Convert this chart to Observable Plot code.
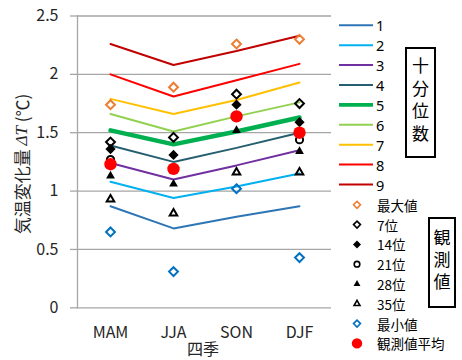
<!DOCTYPE html>
<html>
<head>
<meta charset="utf-8">
<script src="https://cdn.jsdelivr.net/npm/d3@7"></script>
<script src="https://cdn.jsdelivr.net/npm/@observablehq/plot@0.6"></script>
<style>
  body { margin: 0; background: #fff; }
  #chart { width: 462px; height: 360px; }
</style>
</head>
<body>
<div id="chart"></div>
<script>
// Seasons on the x axis
const seasons = ["MAM", "JJA", "SON", "DJF"];
const yTicks = [0, 0.5, 1, 1.5, 2, 2.5];

// Model deciles (1st .. 9th), ΔT in ℃ per season
const decile1 = [0.87, 0.68, 0.78, 0.87];
const decile2 = [1.08, 0.94, 1.04, 1.15];
const decile3 = [1.24, 1.10, 1.22, 1.35];
const decile4 = [1.39, 1.25, 1.37, 1.50];
const decile5 = [1.52, 1.40, 1.51, 1.63];
const decile6 = [1.66, 1.51, 1.64, 1.76];
const decile7 = [1.79, 1.66, 1.78, 1.93];
const decile8 = [2.00, 1.81, 1.95, 2.09];
const decile9 = [2.26, 2.08, 2.20, 2.33];

// Observed values (ranked) and observed mean
const obsMax  = [1.74, 1.89, 2.26, 2.30];
const obs7    = [1.42, 1.46, 1.83, 1.75];
const obs14   = [1.36, 1.31, 1.74, 1.59];
const obs21   = [1.27, 1.19, 1.64, 1.44];
const obs28   = [1.13, 1.06, 1.52, 1.34];
const obs35   = [0.93, 0.81, 1.16, 1.16];
const obsMin  = [0.65, 0.31, 1.02, 0.43];
const obsMean = [1.23, 1.19, 1.64, 1.50];

const FONT = "'Noto Sans CJK JP', 'Noto Sans', sans-serif";
const LATIN = "'Noto Sans', sans-serif";
const GRID = "#a6a6a6";

const decileSeries = [
  {name: "1", values: decile1, color: "#2e75b6", width: 2},
  {name: "2", values: decile2, color: "#00b0f0", width: 2},
  {name: "3", values: decile3, color: "#7030a0", width: 2},
  {name: "4", values: decile4, color: "#255e6e", width: 2},
  {name: "5", values: decile5, color: "#00b050", width: 4.5},
  {name: "6", values: decile6, color: "#92d050", width: 2},
  {name: "7", values: decile7, color: "#ffc000", width: 2},
  {name: "8", values: decile8, color: "#ff0000", width: 2},
  {name: "9", values: decile9, color: "#c00000", width: 2}
];

const obsSeries = [
  {name: "最大値", values: obsMax, symbol: "diamond2", fill: "none", stroke: "#ed7d31", r: 4},
  {name: "7位", values: obs7, symbol: "diamond2", fill: "none", stroke: "#000", r: 4},
  {name: "14位", values: obs14, symbol: "diamond2", fill: "#000", stroke: "none", r: 4.6},
  {name: "21位", values: obs21, symbol: "circle", fill: "none", stroke: "#000", r: 3.6},
  {name: "28位", values: obs28, symbol: "triangle2", fill: "#000", stroke: "none", r: 4.2},
  {name: "35位", values: obs35, symbol: "triangle2", fill: "none", stroke: "#000", r: 3.6},
  {name: "最小値", values: obsMin, symbol: "diamond2", fill: "none", stroke: "#0070c0", r: 4},
  {name: "観測値平均", values: obsMean, symbol: "circle", fill: "#ff0000", stroke: "none", r: 6.2}
];

const rows = vals => seasons.map((season, i) => ({season, value: vals[i]}));

const chart = Plot.plot({
  width: 462,
  height: 360,
  marginLeft: 77,
  marginRight: 131,
  marginTop: 15.5,
  marginBottom: 52.7,
  style: {fontFamily: FONT, fontSize: "16px", color: "#262626", background: "#fff"},
  x: {type: "point", domain: seasons, padding: 0.5},
  y: {domain: [0, 2.5]},
  marks: [
    Plot.gridY(yTicks, {stroke: GRID, strokeOpacity: 1, strokeWidth: 1.3}),
    Plot.frame({anchor: "left", stroke: GRID, strokeWidth: 1.3}),
    Plot.axisY(yTicks, {
      tickSize: 7, tickPadding: 12, stroke: GRID, strokeWidth: 1.3,
      tickFormat: d => String(d), label: null, fontSize: 16, fill: "#262626"
    }),
    Plot.axisX({tickSize: 0, tickPadding: 19, label: null, fontSize: 16, fill: "#262626"}),
    ...decileSeries.map(s => Plot.line(rows(s.values), {
      x: "season", y: "value", stroke: s.color, strokeWidth: s.width, strokeLinejoin: "miter"
    })),
    ...obsSeries.map(s => Plot.dot(rows(s.values), {
      x: "season", y: "value", symbol: s.symbol, r: s.r,
      fill: s.fill, stroke: s.stroke, strokeWidth: 2
    }))
  ]
});

document.getElementById("chart").appendChild(chart);

// Titles and legends layered onto the same SVG
const svg = d3.select(chart);

svg.append("text")
  .attr("x", 203).attr("y", 348)
  .attr("text-anchor", "middle").attr("dominant-baseline", "central")
  .attr("font-family", FONT).attr("font-size", 16).attr("fill", "#262626")
  .text("四季");

const ytitle = svg.append("text")
  .attr("transform", "translate(21,164) rotate(-90)")
  .attr("text-anchor", "middle").attr("dominant-baseline", "central")
  .attr("font-family", FONT).attr("font-size", 17).attr("fill", "#262626");
ytitle.append("tspan").text("気温変化量 ");
ytitle.append("tspan").attr("font-family", "'Liberation Serif', serif").attr("font-style", "italic").text("ΔT");
ytitle.append("tspan").text(" (℃)");

// Decile line legend
const lineLegend = svg.append("g");
decileSeries.forEach((s, i) => {
  const y = 25.3 + i * 19.9;
  lineLegend.append("line")
    .attr("x1", 339).attr("x2", 373).attr("y1", y).attr("y2", y)
    .attr("stroke", s.color).attr("stroke-width", s.width === 2 ? 2 : 3.8);
  lineLegend.append("text")
    .attr("x", 376).attr("y", y).attr("text-anchor", "start").attr("dominant-baseline", "central")
    .attr("font-family", LATIN).attr("font-size", 14.5).attr("fill", "#000")
    .text(s.name);
});

// Observation marker legend
const symbolTypes = {diamond2: d3.symbolDiamond2, circle: d3.symbolCircle, triangle2: d3.symbolTriangle2};
const markLegend = svg.append("g");
obsSeries.forEach((s, i) => {
  const y = 204.8 + i * 19.8;
  const rr = s.name === "観測値平均" ? 5.2 : s.r * 0.78;
  markLegend.append("path")
    .attr("transform", `translate(357,${y})`)
    .attr("d", d3.symbol(symbolTypes[s.symbol], Math.PI * rr * rr)())
    .attr("fill", s.fill).attr("stroke", s.stroke).attr("stroke-width", 1.6);
  markLegend.append("text")
    .attr("x", 377).attr("y", y).attr("text-anchor", "start").attr("dominant-baseline", "central")
    .attr("font-family", FONT).attr("font-size", 13.5).attr("fill", "#000")
    .text(s.name);
});

// Vertical boxed captions for the two legend groups
function verticalBox(x0, y0, w, h, label, spacing) {
  svg.append("rect")
    .attr("x", x0).attr("y", y0).attr("width", w).attr("height", h)
    .attr("fill", "#fff").attr("stroke", "#000").attr("stroke-width", 2);
  svg.append("text")
    .attr("x", x0 + w / 2).attr("y", y0 + h / 2)
    .attr("writing-mode", "vertical-rl")
    .attr("text-anchor", "middle")
    .attr("letter-spacing", spacing)
    .attr("font-family", FONT).attr("font-size", 17).attr("fill", "#000")
    .text(label);
}
verticalBox(406, 48, 29, 109, "十分位数", 5.5);
verticalBox(429, 218, 26, 89, "観測値", 5);
</script>
</body>
</html>
